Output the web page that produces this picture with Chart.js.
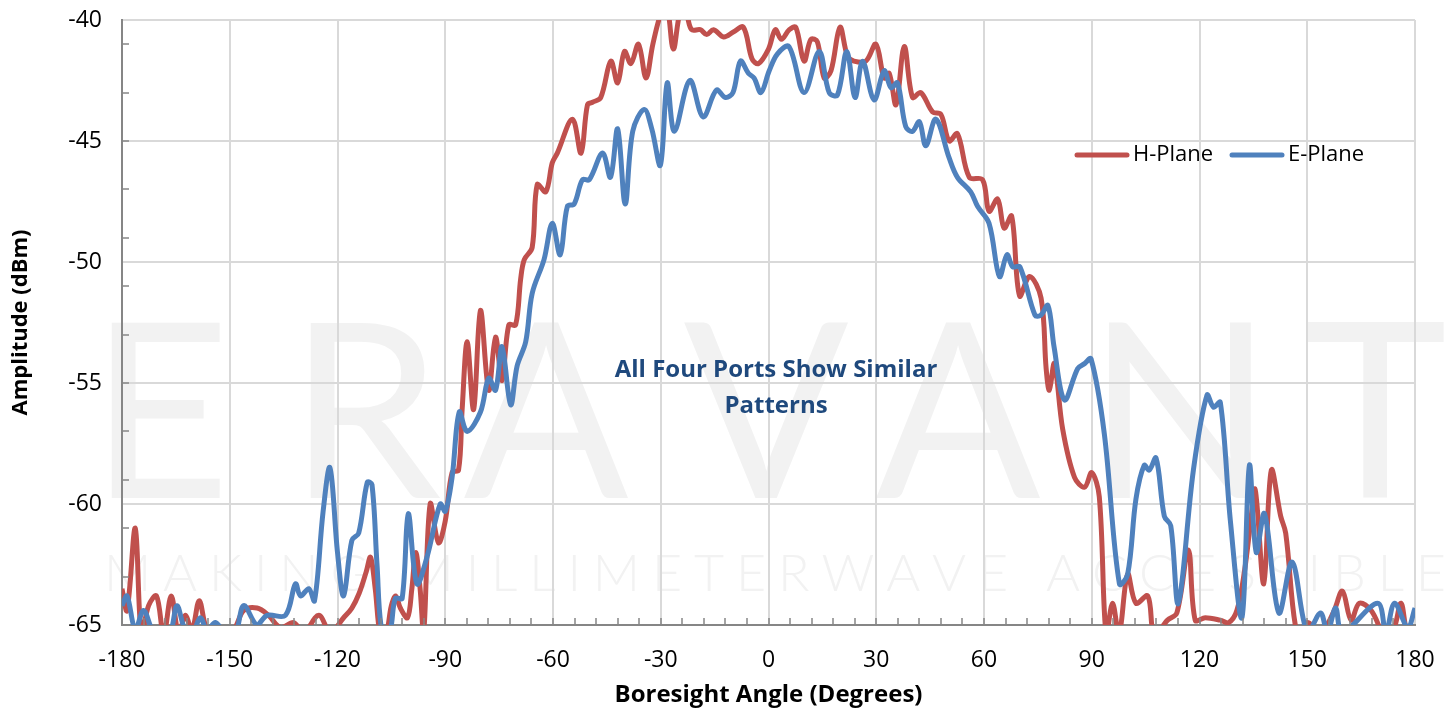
<!DOCTYPE html>
<html>
<head>
<meta charset="utf-8">
<script src="https://cdn.jsdelivr.net/npm/chart.js@4.4.1/dist/chart.umd.min.js"></script>
<style>
  html, body { margin: 0; padding: 0; background: #fff; }
  #wrap { width: 1450px; height: 710px; position: relative; }
</style>
</head>
<body>
<div id="wrap"><canvas id="myChart" width="1450" height="710"></canvas></div>
<script>
// H-Plane trace (angle in degrees, amplitude in dBm)
var hAngle = [-180, -178.6, -176.3, -174.6, -172.6, -170.4, -168.4, -166.3, -164.2, -162.4, -160.5, -158.5, -156.3, -154, -151.2, -148.9, -146.1, -142.4, -139.2, -135.9, -132.2, -129.4, -125.2, -122, -118.3, -116, -114, -112, -110.8, -109.5, -108, -106.5, -105, -103.8, -102.5, -100.5, -99.3, -98.2, -97, -96, -94.2, -91.9, -90, -88.1, -86.3, -85.3, -83.9, -82.1, -80.2, -77.9, -76, -74.2, -72.3, -70.4, -69, -68, -65.8, -64.4, -62, -60.2, -58.8, -54.6, -52.2, -50.4, -49, -46.7, -43.9, -42, -40.1, -38.3, -36.2, -34.1, -32.2, -29.9, -28.3, -26.5, -24.5, -23, -21.4, -19, -17.2, -15.3, -12.5, -9.8, -7, -4.6, -2.8, 0, 1.9, 3.6, 5.8, 7.6, 9.9, 11.8, 13.6, 15.5, 17.4, 19.9, 22, 23.8, 27.1, 29.9, 32.2, 33.6, 35.5, 37.8, 40.1, 42.4, 45.7, 48, 50.3, 52.6, 55.9, 59.6, 61.4, 63.8, 65.6, 67.7, 69.9, 72.7, 75.9, 77.3, 78.2, 79.6, 81.9, 85.2, 88, 90, 92.1, 94, 95.8, 97.6, 100, 102.3, 105.6, 107.4, 111.1, 113.7, 116.9, 118.8, 121.6, 125.8, 128.1, 130.4, 132.5, 134.2, 135.5, 137.9, 140, 142.6, 144, 147.2, 150, 152.8, 155, 157.5, 159.8, 162.2, 164.5, 167.8, 171.5, 174, 176.1, 178, 180];
var hAmp = [-63.5, -64.4, -61.0, -65.4, -64.2, -63.8, -65.4, -63.8, -65.4, -64.6, -65.2, -64.0, -65.2, -65.0, -65.3, -65.2, -64.4, -64.3, -64.6, -65.1, -64.9, -65.3, -64.6, -65.3, -64.7, -64.3, -63.7, -62.8, -62.2, -63.5, -65.5, -65.4, -64.2, -63.8, -64.3, -64.7, -63.5, -62.0, -63.5, -65.3, -60.0, -61.6, -60.7, -58.7, -58.6, -56.1, -53.3, -56.1, -52.0, -55.3, -53.1, -54.9, -52.6, -52.6, -50.7, -49.9, -49.4, -46.8, -47.1, -45.9, -45.5, -44.1, -45.5, -43.5, -43.4, -43.2, -41.7, -42.6, -41.3, -41.8, -41.0, -42.4, -41.0, -39.7, -39.4, -41.2, -39.6, -39.7, -40.4, -40.4, -40.6, -40.4, -40.7, -40.5, -40.3, -41.6, -41.8, -41.2, -40.4, -40.8, -40.4, -40.3, -41.7, -40.8, -40.9, -42.4, -42.1, -40.3, -41.5, -41.7, -41.7, -41.0, -42.4, -42.2, -43.5, -41.1, -43.2, -43.0, -43.8, -43.9, -45.0, -44.7, -46.5, -46.6, -47.9, -47.4, -48.6, -48.1, -51.4, -50.6, -51.5, -54.4, -55.3, -54.2, -56.9, -58.9, -59.3, -58.7, -59.7, -65.4, -64.1, -65.4, -62.9, -64.1, -63.8, -65.4, -64.8, -64.5, -61.9, -64.8, -64.7, -64.8, -64.9, -64.4, -62.8, -60.8, -59.4, -63.3, -58.6, -60.5, -61.2, -65.4, -64.9, -65.2, -65.1, -64.4, -63.6, -64.8, -64.1, -64.4, -65.4, -65.2, -64.1, -65.4, -65.1];

// E-Plane trace
var eAngle = [-180, -178.6, -176.3, -174, -171.2, -168.5, -166.5, -164.7, -162.4, -160.3, -158.2, -156.3, -154, -151.5, -148.6, -146.1, -142.4, -139.6, -134.5, -131.7, -130.3, -128, -126.4, -124, -122.1, -120, -118.3, -116, -114.1, -111.7, -110.4, -109, -107.6, -105.5, -103.9, -102, -100.3, -97.9, -95.1, -91.4, -90, -88.1, -86.1, -83.9, -80.2, -77.9, -76, -74.2, -71.8, -70, -67.6, -65.8, -62.5, -60.2, -58, -56, -54.1, -51.8, -49.9, -46.2, -44, -42, -39.9, -37.8, -34.6, -32.5, -30.1, -28.2, -26.2, -21.9, -18.2, -14.5, -12, -9.9, -7.8, -5.6, -4, -2.1, 0.2, 2.5, 5.7, 9.9, 14.1, 16.9, 19.2, 21.8, 24.1, 26.2, 29.4, 32.2, 34.1, 35.9, 38.2, 40.1, 42, 43.8, 46.6, 50.3, 52.6, 56.3, 58.2, 61.4, 64.3, 66.4, 68, 70, 74.2, 75.8, 77.8, 79.5, 82.4, 86.1, 88, 89.8, 93.5, 97.7, 100, 102.3, 104.6, 106, 107.9, 110.2, 112, 114.1, 118.3, 122.1, 123.9, 125.8, 128.6, 131.8, 133.9, 135.8, 138.1, 142.1, 145.8, 150, 153.7, 155.6, 157.9, 159.8, 169.6, 171.9, 174.3, 178, 180];
var eAmp = [-64.2, -63.8, -65.2, -64.4, -65.3, -65.4, -65.3, -64.2, -65.2, -65.3, -64.7, -65.2, -64.9, -65.3, -65.4, -64.2, -65.0, -64.6, -64.6, -63.3, -63.8, -63.5, -64.0, -60.3, -58.5, -62.0, -63.8, -61.5, -61.2, -59.1, -59.2, -62.5, -65.3, -65.3, -63.9, -63.9, -60.4, -63.3, -62.2, -60.0, -60.3, -58.9, -56.2, -57.0, -56.2, -54.8, -55.3, -53.5, -55.9, -54.3, -53.3, -51.3, -49.9, -48.4, -49.7, -47.7, -47.6, -46.6, -46.6, -45.5, -46.5, -44.5, -47.6, -44.6, -43.7, -44.5, -46.0, -42.6, -44.6, -42.5, -44.0, -42.9, -43.2, -43.0, -41.7, -42.2, -42.4, -43.0, -42.1, -41.4, -41.1, -43.0, -41.3, -43.0, -43.1, -41.3, -43.2, -41.7, -43.3, -42.1, -42.8, -42.6, -44.4, -44.6, -44.2, -45.2, -44.1, -45.7, -46.5, -47.1, -47.7, -48.4, -50.6, -49.7, -50.2, -50.2, -52.2, -52.2, -51.8, -53.5, -55.7, -54.4, -54.2, -54.0, -57.1, -63.3, -62.9, -59.8, -58.4, -58.6, -58.1, -60.5, -60.9, -64.1, -58.6, -55.5, -56.0, -55.8, -60.7, -64.7, -58.4, -62.0, -60.4, -64.5, -62.4, -65.3, -64.5, -65.3, -64.3, -65.3, -64.1, -65.3, -64.1, -65.1, -64.3];

var seriesNames = ['H-Plane', 'E-Plane'];
var seriesColors = ['#C0504D', '#4F81BD'];

// axis range and ticks
var xMin = -180, xMax = 180, xStep = 30, xMinorStep = 6;
var yMin = -65, yMax = -40, yStep = 5, yMinorStep = 2;

var noteLines = ['All Four Ports Show Similar', 'Patterns'];
var markText = 'ERAVANT';
var markSub = 'MAKING MILLIMETERWAVE ACCESSIBLE';

function pairs(xs, ys) {
    return xs.map(function (x, i) { return { x: x, y: ys[i] }; });
}

var FONT = '"Open Sans", Lato, sans-serif';
var MARK_FONT = 'Lato, "Open Sans", sans-serif';

// faint company watermark behind the grid
var watermark = {
    id: 'watermark',
    beforeDraw: function (chart) {
        var ctx = chart.ctx;
        ctx.save();
        ctx.fillStyle = '#f2f2f2';
        ctx.textBaseline = 'alphabetic';
        ctx.textAlign = 'center';
        ctx.font = '400 244px ' + MARK_FONT;
        var centers = [160, 365, 546, 766, 958, 1180, 1375];
        for (var i = 0; i < markText.length; i++) {
            ctx.fillText(markText[i], centers[i], 498);
        }
        // tagline, spread evenly between two x positions
        ctx.font = '300 52px ' + MARK_FONT;
        ctx.textAlign = 'left';
        var left = 104, right = 1446;
        var total = 0;
        for (var j = 0; j < markSub.length; j++) total += ctx.measureText(markSub[j]).width;
        var gap = (right - left - total) / (markSub.length - 1);
        var x = left;
        for (var k = 0; k < markSub.length; k++) {
            ctx.fillText(markSub[k], x, 591);
            x += ctx.measureText(markSub[k]).width + gap;
        }
        ctx.restore();
    }
};

// minor tick marks inside the plot, legend and note
var extras = {
    id: 'extras',
    afterDatasetsDraw: function (chart) {
        var ctx = chart.ctx, a = chart.chartArea;
        var xs = chart.scales.x, ys = chart.scales.y;
        ctx.save();
        ctx.strokeStyle = '#868686';
        ctx.lineWidth = 1.5;
        ctx.beginPath();
        for (var v = xMin + xMinorStep; v < xMax; v += xMinorStep) {
            var px = Math.round(xs.getPixelForValue(v));
            ctx.moveTo(px, a.bottom);
            ctx.lineTo(px, a.bottom - 7);
        }
        for (var w = yMin + yMinorStep; w < yMax; w += yMinorStep) {
            var py = Math.round(ys.getPixelForValue(w));
            ctx.moveTo(a.left, py);
            ctx.lineTo(a.left + 7, py);
        }
        ctx.stroke();

        // legend
        var legendX = [1075, 1230], legendY = 155;
        ctx.font = '22px ' + FONT;
        ctx.textBaseline = 'middle';
        ctx.textAlign = 'left';
        ctx.lineCap = 'round';
        for (var i = 0; i < seriesNames.length; i++) {
            ctx.strokeStyle = seriesColors[i];
            ctx.lineWidth = 5;
            ctx.beginPath();
            ctx.moveTo(legendX[i] + 2, legendY);
            ctx.lineTo(legendX[i] + 52, legendY);
            ctx.stroke();
            ctx.fillStyle = '#000';
            ctx.fillText(seriesNames[i], legendX[i] + 58, legendY);
        }

        // note in the middle of the plot
        ctx.fillStyle = '#1F497D';
        ctx.font = 'bold 24px ' + FONT;
        ctx.textAlign = 'center';
        ctx.fillText(noteLines[0], 776, 370);
        ctx.fillText(noteLines[1], 776, 406);
        ctx.restore();
    }
};

var ctx = document.getElementById('myChart').getContext('2d');

var myChart = new Chart(ctx, {
    type: 'line',
    data: {
        datasets: [{
            label: seriesNames[0],
            data: pairs(hAngle, hAmp),
            borderColor: seriesColors[0],
            borderWidth: 5,
            pointRadius: 0,
            tension: 0.35,
            clip: 0,
            order: 2
        }, {
            label: seriesNames[1],
            data: pairs(eAngle, eAmp),
            borderColor: seriesColors[1],
            borderWidth: 5,
            pointRadius: 0,
            tension: 0.35,
            clip: 0,
            order: 1
        }]
    },
    options: {
        responsive: false,
        animation: false,
        events: [],
        layout: { padding: { left: 0, right: 35, top: 20, bottom: 0 } },
        plugins: {
            legend: { display: false },
            tooltip: { enabled: false }
        },
        scales: {
            x: {
                type: 'linear',
                min: xMin,
                max: xMax,
                ticks: {
                    stepSize: xStep,
                    color: '#000',
                    font: { family: FONT, size: 23 },
                    padding: 22,
                    maxRotation: 0
                },
                grid: { color: '#d9d9d9', lineWidth: 2, tickLength: 0 },
                border: { color: '#868686', width: 2 },
                title: {
                    display: true,
                    text: 'Boresight Angle (Degrees)',
                    color: '#000',
                    font: { family: FONT, size: 24, weight: 'bold' },
                    padding: { top: 0, bottom: 0 }
                },
                afterFit: function (scale) {
                    scale.height = 85;
                    scale.paddingLeft = 0;
                    scale.paddingRight = 0;
                }
            },
            y: {
                min: yMin,
                max: yMax,
                ticks: {
                    stepSize: yStep,
                    color: '#000',
                    font: { family: FONT, size: 23 },
                    padding: 20
                },
                grid: { color: '#d9d9d9', lineWidth: 2, tickLength: 0 },
                border: { color: '#868686', width: 2 },
                title: {
                    display: true,
                    text: 'Amplitude (dBm)',
                    color: '#000',
                    font: { family: FONT, size: 22, weight: 'bold' },
                    padding: { top: 8, bottom: 0 }
                },
                afterFit: function (scale) {
                    scale.width = 122;
                    scale.paddingTop = 0;
                    scale.paddingBottom = 0;
                }
            }
        }
    },
    plugins: [watermark, extras]
});
</script>
</body>
</html>
